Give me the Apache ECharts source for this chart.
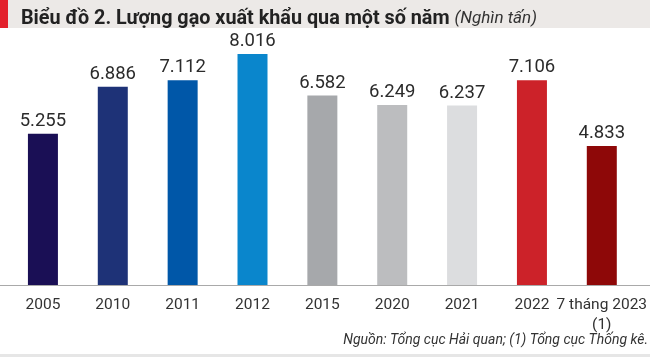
<!DOCTYPE html>
<html><head><meta charset="utf-8">
<script src="https://cdn.jsdelivr.net/npm/echarts@6/dist/echarts.min.js"></script>
<style>html,body{margin:0;padding:0;background:#fff}#c{width:650px;height:357px}</style>
</head><body><div id="c"></div>
<script>
const categories = ['2005', '2010', '2011', '2012', '2015', '2020', '2021', '2022', '7 tháng 2023\n(1)'];
const values = [5255, 6886, 7112, 8016, 6582, 6249, 6237, 7106, 4833];
const barColors = ['#1a0f55', '#1e3277', '#0057a8', '#0a86cc', '#a6a8ab', '#bcbdbf', '#dcdddf', '#cc2229', '#8e0808'];
const titleMain = 'Biểu đồ 2. Lượng gạo xuất khẩu qua một số năm';
const titleUnit = '(Nghìn tấn)';
const sourceText = 'Nguồn: Tổng cục Hải quan; (1) Tổng cục Thống kê.';

function fmt(v){ return String(v).replace(/\B(?=(\d{3})+(?!\d))/g, '.'); }

const chart = echarts.init(document.getElementById('c'), null, {renderer:'canvas'});
chart.setOption({
  animation: false,
  backgroundColor: '#fff',
  graphic: [
    {type:'rect', shape:{x:0,y:0,width:650,height:28}, style:{fill:'#ece9e7'}, z:-1},
    {type:'rect', shape:{x:0,y:0,width:8,height:28}, style:{fill:'#e3202b'}, z:0},
    {type:'line', shape:{x1:0,y1:285.5,x2:650,y2:285.5}, style:{stroke:'#a9a9a9', lineWidth:1}, z:10},
    {type:'rect', shape:{x:0,y:354,width:650,height:3}, style:{fill:'#e6e6e6'}, z:-1},
    {type:'text', right:2, top:333, style:{text: sourceText, font:'italic 14px Roboto', fill:'#333'}}
  ],
  title: {
    left: 16, top: 4,
    text: '{b|' + titleMain + '}{g|}{i|' + titleUnit + '}',
    textStyle: {
      rich: {
        b: {fontFamily:'Roboto', fontWeight:'bold', fontSize:19.8, color:'#222'},
        g: {width: 5},
        i: {fontFamily:'Roboto', fontStyle:'italic', fontWeight:'normal', fontSize:17, color:'#333'}
      }
    }
  },
  grid: {left: 8, right: 12, top: 25.6, bottom: 71.3, containLabel: false},
  xAxis: {
    type: 'category', data: categories,
    axisLine: {show:false}, axisTick: {show:false},
    axisLabel: {interval:0, margin: 9, color:'#333', fontFamily:'Roboto', fontSize:15.5, lineHeight:20}
  },
  yAxis: {type:'value', min:0, max:9000, show:false, splitLine:{show:false}},
  series: [{
    type: 'bar', barWidth: 30,
    data: values.map((v,i)=>({value:v, itemStyle:{color:barColors[i]}})),
    label: {show:true, position:'top', distance:3, color:'#2b2b2b', fontFamily:'Roboto', fontSize:18.5,
      formatter: p => fmt(p.value)}
  }]
});
</script></body></html>
